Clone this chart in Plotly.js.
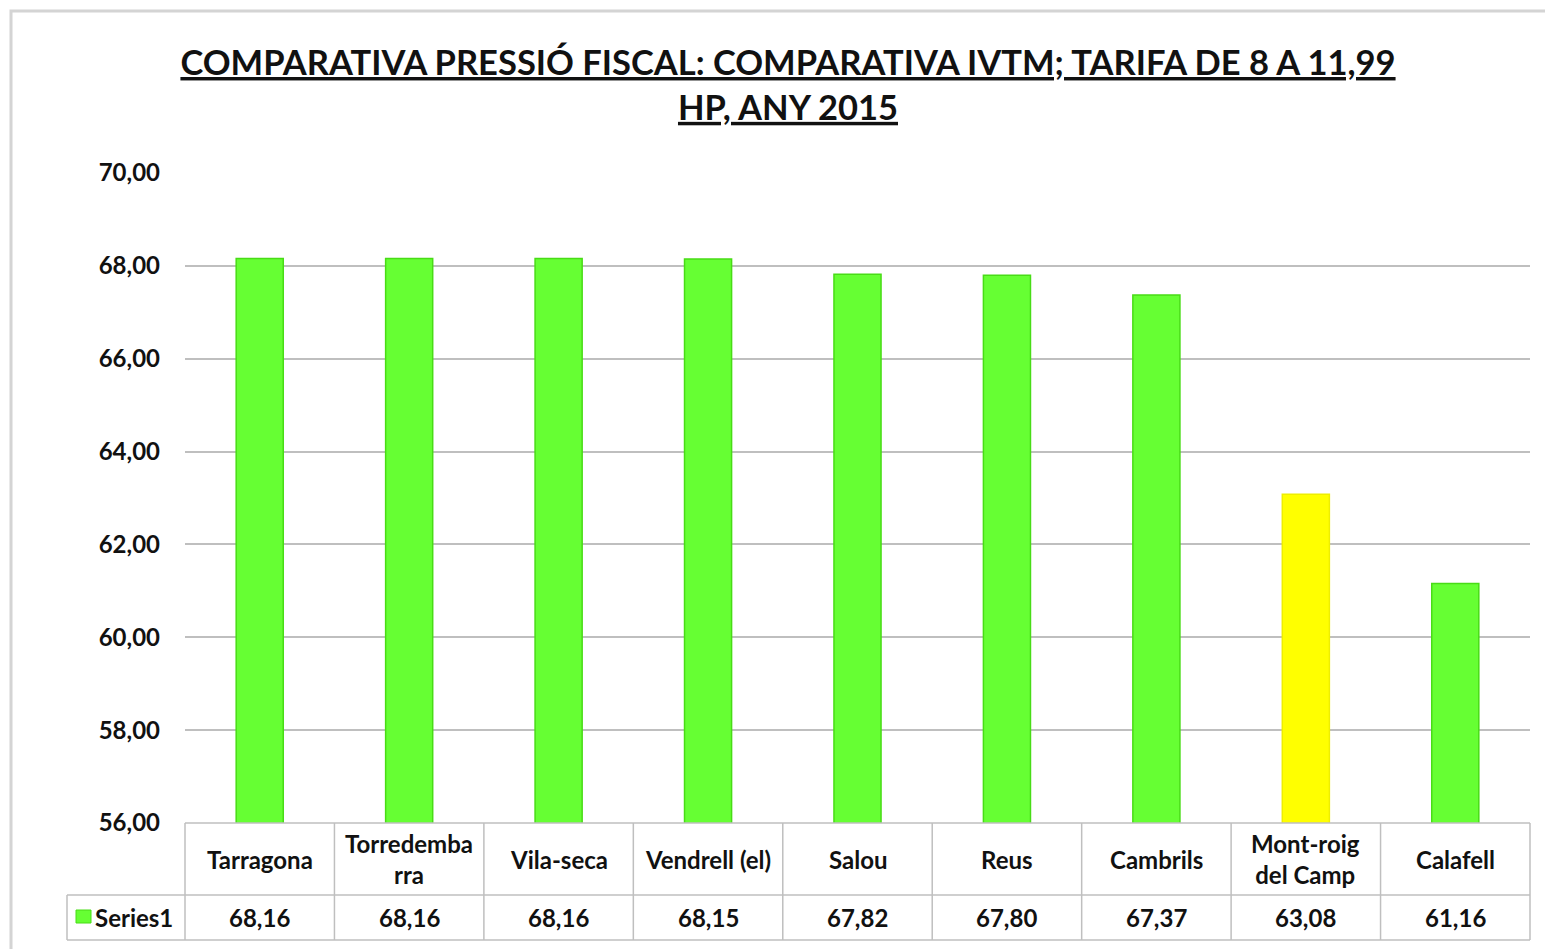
<!DOCTYPE html>
<html>
<head>
<meta charset="utf-8">
<script src="https://cdn.plot.ly/plotly-3.0.1.min.js"></script>
<style>html,body{margin:0;padding:0;background:#fff;}#chart{width:1545px;height:949px;}</style>
</head>
<body>
<div id="chart"></div>
<script>
const categories = ["Tarragona", "Torredembarra", "Vila-seca", "Vendrell (el)", "Salou", "Reus", "Cambrils", "Mont-roig del Camp", "Calafell"];
const categoryLabels = ["Tarragona", "Torredemba<br>rra", "Vila-seca", "Vendrell (el)", "Salou", "Reus", "Cambrils", "Mont-roig<br>del Camp", "Calafell"];
const values = [68.16, 68.16, 68.16, 68.15, 67.82, 67.80, 67.37, 63.08, 61.16];
const barColors = ["#66FF33", "#66FF33", "#66FF33", "#66FF33", "#66FF33", "#66FF33", "#66FF33", "#FFFF00", "#66FF33"];
const barLineColors = ["#48DC16", "#48DC16", "#48DC16", "#48DC16", "#48DC16", "#48DC16", "#48DC16", "#EEEE00", "#48DC16"];
const seriesName = "Series1";
const yTicks = [56, 58, 60, 62, 64, 66, 68, 70];

const FONT = "Lato, 'Open Sans', sans-serif";
const TXT = "#111111";
const GRID = "#BFBFBF";
const FS = 24;

const fmt = v => v.toFixed(2).replace('.', ',');

// paper helpers (plot area: x 185..1530, y 173..823 px)
const PX = px => (px - 185) / 1345;
const PY = py => (823 - py) / 650;

const trace = {
  type: 'bar',
  x: categories,
  y: values,
  name: seriesName,
  marker: { color: barColors, line: { color: barLineColors, width: 1.5 } },
  width: 0.315,
  hoverinfo: 'x+y',
  showlegend: false
};

const shapes = [];
// outer chart border
shapes.push({type:'rect', xref:'paper', yref:'paper', x0: PX(11), x1: PX(1600), y0: PY(1000), y1: PY(11), line:{color:'#D4D4D4', width:3}, layer:'below'});
// table horizontal lines
shapes.push({type:'line', xref:'paper', yref:'paper', x0: 0, x1: 1, y0: 0, y1: 0, line:{color:GRID, width:1.5}});
shapes.push({type:'line', xref:'paper', yref:'paper', x0: PX(67), x1: 1, y0: PY(895), y1: PY(895), line:{color:GRID, width:1.5}});
shapes.push({type:'line', xref:'paper', yref:'paper', x0: PX(67), x1: 1, y0: PY(940), y1: PY(940), line:{color:GRID, width:1.5}});
// table vertical lines
for (let i = 0; i <= categories.length; i++) {
  shapes.push({type:'line', xref:'paper', yref:'paper', x0: i / categories.length, x1: i / categories.length, y0: 0, y1: PY(940), line:{color:GRID, width:1.5}});
}
shapes.push({type:'line', xref:'paper', yref:'paper', x0: PX(67), x1: PX(67), y0: PY(895), y1: PY(940), line:{color:GRID, width:1.5}});
// legend key
shapes.push({type:'rect', xref:'paper', yref:'paper', x0: PX(76), x1: PX(91), y0: PY(923), y1: PY(910), fillcolor:'#66FF33', line:{color:'#48DC16', width:1}});

const annotations = [];
categories.forEach((c, i) => {
  annotations.push({xref:'x', yref:'paper', x: c, y: PY(859), yanchor:'middle', xanchor:'center', text: categoryLabels[i], showarrow:false, font:{family:FONT, size:FS, color:TXT, weight:700}});
  annotations.push({xref:'x', yref:'paper', x: c, y: PY(917), yanchor:'middle', xanchor:'center', text: fmt(values[i]), showarrow:false, font:{family:FONT, size:FS, color:TXT, weight:700}});
});
annotations.push({xref:'paper', yref:'paper', x: PX(93), y: PY(917), yanchor:'middle', xanchor:'left', text: seriesName, showarrow:false, font:{family:FONT, size:FS, color:TXT, weight:700}});

const layout = {
  width: 1545, height: 949,
  margin: {l:185, r:15, t:173, b:126},
  paper_bgcolor:'#ffffff', plot_bgcolor:'#ffffff',
  separators: ',.',
  title: {
    text: "<span style='text-decoration:underline'>COMPARATIVA PRESSIÓ FISCAL: COMPARATIVA IVTM; TARIFA DE 8 A 11,99</span><br><span style='text-decoration:underline'>HP, ANY 2015</span>",
    font: {family: FONT, size: 34.5, color: TXT, weight: 700},
    x: 788/1545, xanchor:'center', xref:'container',
    y: 1 - 75/949, yanchor:'top', yref:'container'
  },
  xaxis: {
    type:'category', showticklabels:false, showgrid:false, zeroline:false, showline:false, ticks:'',
    range:[-0.5, categories.length - 0.5], fixedrange:true
  },
  yaxis: {
    range:[56, 70], tickvals: yTicks, tickformat:'.2f', showgrid:true, gridcolor:GRID, gridwidth:1.5,
    zeroline:false, showline:false, ticks:'', ticklabelstandoff: 24,
    tickfont:{family:FONT, size:FS, color:TXT, weight:700}, fixedrange:true
  },
  bargap: 0.685,
  showlegend:false,
  shapes: shapes,
  annotations: annotations
};

Plotly.newPlot('chart', [trace], layout, {displayModeBar:false, staticPlot:false});
</script>
</body>
</html>
